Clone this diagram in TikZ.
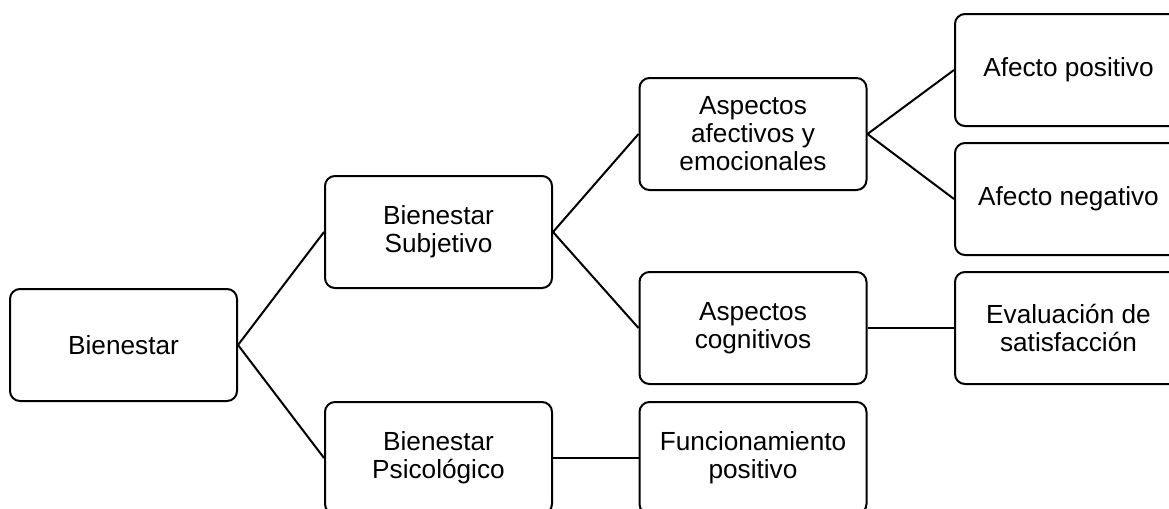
\documentclass[tikz,border=0pt]{standalone}
\usepackage{fontspec}
\setmainfont{Liberation Sans}
\begin{document}
\begin{tikzpicture}[x=0.5pt,y=-0.5pt,
  box/.style={draw=black,line width=1pt,rounded corners=5pt,fill=white,
    minimum width=113.5pt,minimum height=56pt,inner sep=0pt,align=center,
    font=\fontsize{13.1pt}{14pt}\selectfont},
  link/.style={draw=black,line width=1pt}]
\useasboundingbox (0,0) rectangle (1169,509);
\clip (0,0) rectangle (1169,509);
\node[box] (b) at (123.5,345) {Bienestar};
\node[box] (s) at (438.5,232) {Bienestar\\Subjetivo};
\node[box] (p) at (438.5,458) {Bienestar\\Psicológico};
\node[box] (aa) at (753,134) {Aspectos\\afectivos y\\emocionales};
\node[box] (ac) at (753,328) {Aspectos\\cognitivos};
\node[box] (f) at (753,458) {Funcionamiento\\positivo};
\node[box] (ap) at (1068.5,70) {Afecto positivo};
\node[box] (an) at (1068.5,199) {Afecto negativo};
\node[box] (ev) at (1068.5,328) {Evaluación de\\satisfacción};
\draw[link] (b.east) -- (s.west);
\draw[link] (b.east) -- (p.west);
\draw[link] (s.east) -- (aa.west);
\draw[link] (s.east) -- (ac.west);
\draw[link] (aa.east) -- (ap.west);
\draw[link] (aa.east) -- (an.west);
\draw[link] (ac.east) -- (ev.west);
\draw[link] (p.east) -- (f.west);
\end{tikzpicture}
\end{document}
